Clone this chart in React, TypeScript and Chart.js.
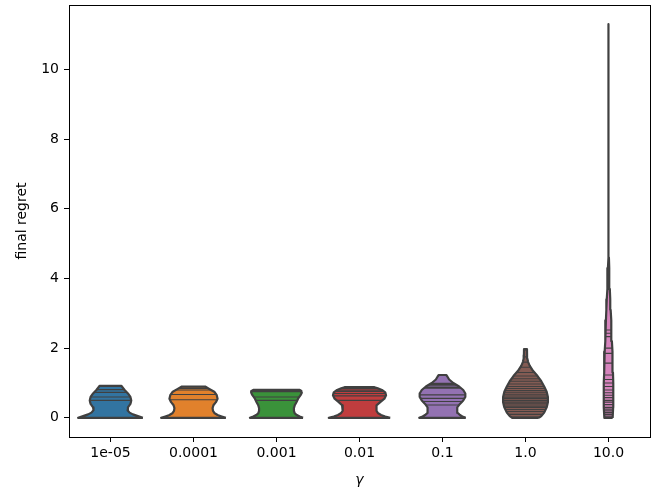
import React, { useEffect, useRef } from "react";
import { Chart, registerables } from "chart.js";

Chart.register(...registerables);

// ---- data ----
const categories = ["1e-05", "0.0001", "0.001", "0.01", "0.1", "1.0", "10.0"];
const fillColors = ["#3274a1", "#e1812c", "#3a923a", "#c03d3e", "#9372b2", "#845b53", "#d684bd"];
const yTickValues = [0, 2, 4, 6, 8, 10];

// violin outlines: value levels and half-widths (in category units)
const levels0 = [0, 0.05, 0.1, 0.15, 0.22, 0.3, 0.4, 0.5, 0.6, 0.7, 0.8, 0.92];
const widths0 = [0.39, 0.33, 0.27, 0.23, 0.205, 0.21, 0.24, 0.25, 0.24, 0.21, 0.17, 0.13];
const sticks0 = [0, 0, 0, 0, 0.5, 0.6, 0.73, 0.81, 0.92];

const levels1 = [0, 0.04, 0.08, 0.13, 0.2, 0.28, 0.36, 0.45, 0.55, 0.65, 0.75, 0.83, 0.9];
const widths1 = [0.39, 0.34, 0.29, 0.255, 0.235, 0.23, 0.24, 0.27, 0.29, 0.28, 0.25, 0.19, 0.14];
const sticks1 = [0, 0, 0, 0.52, 0.67, 0.8, 0.84, 0.88];

const levels2 = [0, 0.04, 0.08, 0.13, 0.2, 0.28, 0.36, 0.45, 0.55, 0.65, 0.72, 0.77, 0.8];
const widths2 = [0.32, 0.28, 0.245, 0.22, 0.21, 0.21, 0.22, 0.24, 0.26, 0.29, 0.305, 0.3, 0.28];
const sticks2 = [0, 0, 0, 0.5, 0.6, 0.75, 0.78, 0.8];

const levels3 = [0, 0.04, 0.08, 0.13, 0.2, 0.28, 0.36, 0.45, 0.55, 0.65, 0.73, 0.8, 0.85, 0.88];
const widths3 = [0.37, 0.31, 0.26, 0.225, 0.205, 0.2, 0.21, 0.25, 0.3, 0.32, 0.31, 0.27, 0.22, 0.18];
const sticks3 = [0, 0, 0, 0.5, 0.63, 0.7, 0.76, 0.8, 0.84, 0.88];

const levels4 = [0, 0.04, 0.08, 0.14, 0.22, 0.3, 0.4, 0.5, 0.6, 0.7, 0.8, 0.9, 1.0, 1.1, 1.18, 1.23];
const widths4 = [0.28, 0.24, 0.21, 0.185, 0.175, 0.18, 0.21, 0.25, 0.275, 0.275, 0.25, 0.2, 0.13, 0.08, 0.06, 0.045];
const sticks4 = [0, 0, 0.37, 0.47, 0.56, 0.66, 0.85, 0.88, 0.92, 0.96, 0.99, 1.23];

const levels5 = [0, 0.05, 0.15, 0.3, 0.45, 0.6, 0.75, 0.9, 1.05, 1.2, 1.35, 1.5, 1.6, 1.7, 1.8, 1.97];
const widths5 = [0.16, 0.19, 0.225, 0.255, 0.27, 0.27, 0.255, 0.225, 0.19, 0.145, 0.09, 0.05, 0.032, 0.022, 0.019, 0.018];
const sticks5 = [0.02, 0.1, 0.18, 0.24, 0.3, 0.34, 0.4, 0.45, 0.5, 0.56, 0.6, 0.66, 0.72, 0.78, 0.84, 0.9, 0.97, 1.05, 1.12, 1.2, 1.3, 1.45, 1.6, 1.75, 1.95];

const levels6 = [0, 0.3, 0.7, 1.0, 1.3, 1.6, 1.9, 2.2, 2.5, 2.8, 3.1, 3.4, 3.7, 4.0, 4.3, 4.6, 5.0, 6, 8, 10, 11.3];
const widths6 = [0.05, 0.056, 0.058, 0.057, 0.054, 0.05, 0.046, 0.041, 0.036, 0.031, 0.026, 0.021, 0.016, 0.011, 0.007, 0.005, 0.003, 0.002, 0.001, 0.001, 0.001];
const sticks6 = [0.05, 0.1, 0.15, 0.2, 0.25, 0.3, 0.38, 0.45, 0.5, 0.58, 0.65, 0.72, 0.8, 0.9, 1.0, 1.1, 1.23, 1.57, 1.85, 2.0, 2.33, 2.43, 2.52, 4.1, 11.3];

const allLevels = [levels0, levels1, levels2, levels3, levels4, levels5, levels6];
const allWidths = [widths0, widths1, widths2, widths3, widths4, widths5, widths6];
const allSticks = [sticks0, sticks1, sticks2, sticks3, sticks4, sticks5, sticks6];

const EDGE = "#404040";
const FONT = "'DejaVu Sans', sans-serif";
const FONT_SIZE = 14;

function interp(levels: number[], widths: number[], v: number): number {
  if (v <= levels[0]) return widths[0];
  for (let k = 1; k < levels.length; k++) {
    if (v <= levels[k]) {
      const t = (v - levels[k - 1]) / (levels[k] - levels[k - 1]);
      return widths[k - 1] + t * (widths[k] - widths[k - 1]);
    }
  }
  return widths[widths.length - 1];
}

function outlinePoints(i: number, levels: number[], widths: number[]) {
  const pts: { x: number; y: number }[] = [];
  for (let k = 0; k < levels.length; k++) pts.push({ x: i + widths[k], y: levels[k] });
  for (let k = levels.length - 1; k >= 0; k--) pts.push({ x: i - widths[k], y: levels[k] });
  pts.push({ x: i + widths[0], y: levels[0] });
  return pts;
}

function stickPoints(i: number, levels: number[], widths: number[], sticks: number[]) {
  const pts: { x: number; y: number }[] = [];
  sticks.forEach((v) => {
    const w = interp(levels, widths, v) * 0.99;
    pts.push({ x: i - w, y: v });
    pts.push({ x: i + w, y: v });
    pts.push({ x: NaN, y: NaN });
  });
  return pts;
}

const framePlugin = {
  id: "frame",
  afterDatasetsDraw(chart: any) {
    const { ctx, chartArea } = chart;
    ctx.save();
    ctx.strokeStyle = "#000";
    ctx.lineWidth = 1;
    ctx.strokeRect(
      Math.round(chartArea.left) + 0.5,
      Math.round(chartArea.top) + 0.5,
      Math.round(chartArea.right - chartArea.left),
      Math.round(chartArea.bottom - chartArea.top)
    );
    ctx.restore();
  },
};

export default function App() {
  const ref = useRef<HTMLCanvasElement | null>(null);

  useEffect(() => {
    if (!ref.current) return;
    const datasets: any[] = [];
    categories.forEach((_, i) => {
      datasets.push({
        label: "sticks" + i,
        data: stickPoints(i, allLevels[i], allWidths[i], allSticks[i]),
        showLine: true,
        borderColor: EDGE,
        borderWidth: 1.1,
        pointRadius: 0,
        fill: false,
        spanGaps: false,
        order: 0,
      });
      datasets.push({
        label: "violin" + i,
        data: outlinePoints(i, allLevels[i], allWidths[i]),
        showLine: true,
        borderColor: EDGE,
        borderWidth: 2.2,
        borderJoinStyle: "round",
        backgroundColor: fillColors[i],
        fill: "shape",
        pointRadius: 0,
        tension: 0,
        order: 1,
      });
    });

    const chart = new Chart(ref.current, {
      type: "scatter",
      data: { datasets },
      plugins: [framePlugin],
      options: {
        animation: false,
        responsive: false,
        events: [],
        layout: { padding: { top: 5, right: 5, left: 0, bottom: 0 } },
        plugins: { legend: { display: false }, tooltip: { enabled: false } },
        scales: {
          x: {
            type: "linear",
            min: -0.5,
            max: 6.5,
            afterBuildTicks: (s: any) => {
              s.ticks = categories.map((_, i) => ({ value: i }));
            },
            afterFit: (s: any) => {
              s.height = 54;
              s.paddingLeft = 0;
              s.paddingRight = 0;
            },
            ticks: {
              callback: (v: any) => categories[Math.round(Number(v))],
              font: { family: FONT, size: FONT_SIZE },
              color: "#000",
              padding: 3,
              maxRotation: 0,
              autoSkip: false,
            },
            grid: { display: true, drawOnChartArea: false, drawTicks: true, tickLength: 5, color: "#000", tickWidth: 1 },
            border: { display: true, color: "#000", width: 1 },
            title: {
              display: true,
              text: "γ",
              font: { family: FONT, style: "italic", size: FONT_SIZE },
              color: "#000",
              padding: { top: 0, bottom: 2 },
            },
          },
          y: {
            type: "linear",
            min: -0.55,
            max: 11.85,
            afterBuildTicks: (s: any) => {
              s.ticks = yTickValues.map((v) => ({ value: v }));
            },
            afterFit: (s: any) => {
              s.width = 69;
              s.paddingTop = 0;
              s.paddingBottom = 0;
            },
            ticks: {
              callback: (v: any) => String(v),
              font: { family: FONT, size: FONT_SIZE },
              color: "#000",
              padding: 5,
            },
            grid: { display: true, drawOnChartArea: false, drawTicks: true, tickLength: 5, color: "#000", tickWidth: 1 },
            border: { display: true, color: "#000", width: 1 },
            title: {
              display: true,
              text: "final regret",
              font: { family: FONT, size: FONT_SIZE },
              color: "#000",
              padding: { top: 14, bottom: 0 },
            },
          },
        },
      } as any,
    });
    return () => chart.destroy();
  }, []);

  return (
    <div style={{ position: "absolute", left: 0, top: 0, width: 655, height: 491 }}>
      <canvas ref={ref} width={655} height={491} style={{ display: "block" }} />
    </div>
  );
}
